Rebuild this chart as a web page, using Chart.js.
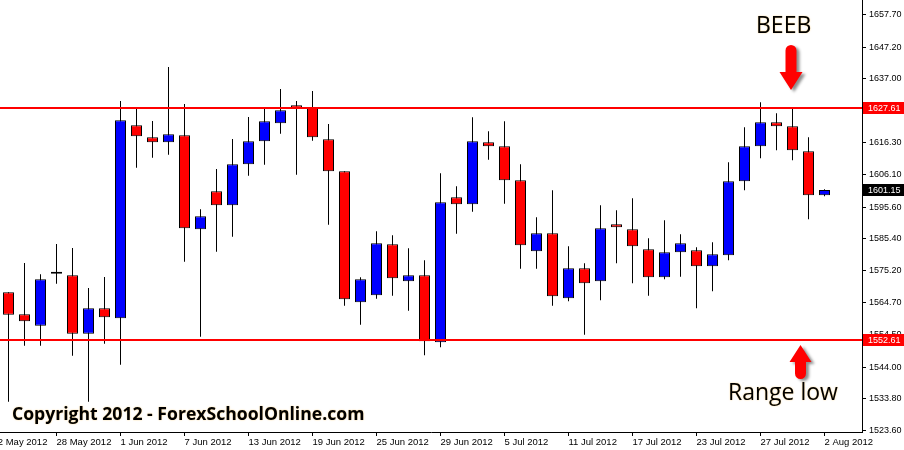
<!DOCTYPE html>
<html>
<head>
<meta charset="utf-8">
<script src="https://cdn.jsdelivr.net/npm/chart.js@4.4.1/dist/chart.umd.min.js"></script>
<style>
html,body{margin:0;padding:0;background:#fff}
canvas{display:block}
</style>
</head>
<body>
<canvas id="grafico" width="904" height="450"></canvas>
<script>

/* DADOS */

const dates=["23 May 2012","24 May 2012","25 May 2012","28 May 2012","29 May 2012","30 May 2012","31 May 2012",
"1 Jun 2012","4 Jun 2012","5 Jun 2012","6 Jun 2012","7 Jun 2012","8 Jun 2012","11 Jun 2012","12 Jun 2012","13 Jun 2012",
"14 Jun 2012","15 Jun 2012","18 Jun 2012","19 Jun 2012","20 Jun 2012","21 Jun 2012","22 Jun 2012","25 Jun 2012",
"26 Jun 2012","27 Jun 2012","28 Jun 2012","29 Jun 2012","2 Jul 2012","3 Jul 2012","4 Jul 2012","5 Jul 2012",
"6 Jul 2012","9 Jul 2012","10 Jul 2012","11 Jul 2012","12 Jul 2012","13 Jul 2012","16 Jul 2012","17 Jul 2012",
"18 Jul 2012","19 Jul 2012","20 Jul 2012","23 Jul 2012","24 Jul 2012","25 Jul 2012","26 Jul 2012","27 Jul 2012",
"30 Jul 2012","31 Jul 2012","1 Aug 2012","2 Aug 2012"]

const opens=[1568.13,1561.03,1557.35,1574.13,1573.61,1554.77,1562.96,1559.74,1622.01,1618.14,1616.53,1618.78,1588.45,
1600.72,1596.20,1609.43,1616.85,1622.66,1628.46,1627.82,1617.49,1607.17,1564.90,1567.16,1583.61,1571.68,1573.61,
1551.99,1598.78,1596.52,1616.53,1615.24,1604.26,1581.36,1587.16,1566.19,1575.87,1571.68,1590.07,1588.45,1582.00,
1572.97,1581.03,1581.68,1576.52,1580.07,1603.94,1615.24,1622.98,1621.69,1613.62,1599.42]

const highs=[1568.13,1577.58,1573.93,1583.71,1582.42,1569.51,1573.06,1629.85,1627.92,1623.40,1640.82,1628.88,1594.91,
1607.91,1617.59,1624.69,1627.92,1633.72,1629.85,1633.08,1622.43,1607.17,1572.97,1587.81,1586.52,1582.32,1578.45,
1606.52,1602.33,1624.59,1620.07,1623.30,1609.43,1592.33,1601.04,1582.97,1577.48,1596.20,1594.58,1598.46,1585.55,
1591.36,1586.84,1582.65,1584.26,1610.07,1621.37,1629.43,1625.88,1627.82,1618.14,1601.36]

const lows=[1532.83,1550.90,1550.90,1570.90,1547.67,1532.83,1551.54,1544.77,1608.33,1611.56,1612.52,1578.00,1553.80,
1581.23,1586.07,1605.75,1609.30,1619.30,1606.07,1617.04,1589.94,1563.80,1557.67,1566.06,1567.03,1562.19,1547.80,
1550.38,1587.03,1594.13,1610.91,1596.71,1575.74,1575.74,1563.80,1565.22,1554.45,1565.54,1577.48,1571.03,1567.03,
1572.32,1573.16,1562.96,1568.45,1578.45,1601.04,1611.36,1613.94,1610.72,1591.68,1599.10]

const closes=[1560.90,1558.77,1572.32,1574.13,1554.77,1562.96,1560.06,1623.62,1618.46,1616.53,1619.11,1588.78,1592.65,
1596.20,1609.43,1616.85,1623.30,1626.85,1627.50,1618.14,1607.17,1565.87,1572.32,1583.94,1572.64,1573.61,1552.32,
1597.17,1596.52,1616.85,1615.24,1604.26,1583.29,1587.16,1566.84,1575.87,1571.03,1588.78,1589.10,1582.97,1572.97,
1581.03,1583.94,1576.52,1580.39,1603.94,1615.24,1622.98,1621.69,1613.94,1599.42,1601.15]

const xTickLabels=["22 May 2012","28 May 2012","1 Jun 2012","7 Jun 2012","13 Jun 2012","19 Jun 2012","25 Jun 2012",
"29 Jun 2012","5 Jul 2012","11 Jul 2012","17 Jul 2012","23 Jul 2012","27 Jul 2012","2 Aug 2012"]

const yTicks=[1523.60,1533.80,1544.00,1554.50,1564.70,1575.20,1585.40,1595.60,1606.10,1616.30,1626.80,1637.00,1647.20,1657.70]

const rangeHigh=1627.61
const rangeLow=1552.61
const lastPrice=1601.15


/* CORES */

const bodyColors=opens.map((o,i)=> closes[i]>o ? "#0000ff" : closes[i]<o ? "#ff0000" : "#000000")


/* DESENHOS EXTRA */

function seta(ctx,cx,y0,y1,sw,hw,hl){

const dir=y1>y0?1:-1
const r=sw/2
const yb=y1-dir*hl

ctx.beginPath()
ctx.moveTo(cx-r,yb)
ctx.lineTo(cx-r,y0+dir*r)
ctx.arc(cx,y0+dir*r,r,Math.PI,0,dir<0)
ctx.lineTo(cx+r,yb)
ctx.lineTo(cx+hw/2,yb)
ctx.lineTo(cx,y1)
ctx.lineTo(cx-hw/2,yb)
ctx.closePath()
ctx.fill()

}

const anotacoes={

id:"anotacoes",

afterDatasetsDraw(chart){

const {ctx,chartArea:a,scales:{y}}=chart

ctx.save()
ctx.strokeStyle="#ff0000"
ctx.lineWidth=2

;[rangeHigh,rangeLow].forEach(v=>{
const py=Math.round(y.getPixelForValue(v))
ctx.beginPath()
ctx.moveTo(a.left,py)
ctx.lineTo(a.right,py)
ctx.stroke()
})

ctx.restore()

},

afterDraw(chart){

const {ctx,chartArea:a,scales:{y}}=chart

ctx.save()

/* caixas de preço */
const caixa=(v,cor)=>{
const py=Math.round(y.getPixelForValue(v))
ctx.fillStyle=cor
ctx.fillRect(a.right+1,py-6,chart.width-a.right-1,12)
ctx.fillStyle="#fff"
ctx.font='9px "Liberation Sans"'
ctx.textBaseline="middle"
ctx.textAlign="left"
ctx.fillText(v.toFixed(2),a.right+6,py+0.5)
}
caixa(rangeHigh,"#ff0000")
caixa(rangeLow,"#ff0000")
caixa(lastPrice,"#000000")

/* textos */
ctx.fillStyle="#000"
ctx.textBaseline="alphabetic"
ctx.textAlign="left"
ctx.shadowColor="rgba(255,170,0,0.55)"
ctx.shadowBlur=1.5
ctx.font='23px "Open Sans"'
ctx.fillText("BEEB",756,33)
ctx.fillText("Range low",728,400)

const copy="Copyright 2012 - ForexSchoolOnline.com"
ctx.font='bold 16px "Open Sans"'
const fs=16*353/ctx.measureText(copy).width
ctx.font='bold '+fs.toFixed(1)+'px "Open Sans"'
ctx.fillText(copy,12,420)

/* setas */
ctx.fillStyle="#ff0000"
ctx.shadowColor="rgba(0,0,0,0.45)"
ctx.shadowBlur=3
ctx.shadowOffsetX=3
ctx.shadowOffsetY=2
seta(ctx,791,45,90,11,23,18)
seta(ctx,800.5,379,345,11,22,17)

ctx.restore()

}

}


/* GRÁFICO */

const ctx=document.getElementById("grafico")

new Chart(ctx,{

type:"bar",

data:{

datasets:[{

label:"corpo",
data:dates.map((d,i)=>({x:i,y:[opens[i],closes[i]]})),
backgroundColor:bodyColors,
borderColor:"#000",
borderWidth:1,
borderSkipped:false,
barPercentage:1,
maxBarThickness:11,
minBarLength:2,
grouped:false,
order:0

},{

label:"pavio",
data:dates.map((d,i)=>({x:i,y:[lows[i],highs[i]]})),
backgroundColor:"#000",
borderWidth:0,
barPercentage:1,
maxBarThickness:1,
grouped:false,
order:1

}]

},

options:{

responsive:false,
animation:false,
devicePixelRatio:1,
layout:{padding:0},

plugins:{
legend:{display:false},
tooltip:{enabled:false}
},

scales:{

x:{
type:"linear",
min:-0.53125,
max:53.34375,
offset:false,
grid:{drawOnChartArea:false,drawTicks:true,tickLength:4,color:"#000",offset:false},
border:{display:true,color:"#000",width:1},
afterBuildTicks:(axis)=>{axis.ticks=xTickLabels.map((t,k)=>({value:4*k-1}))},
ticks:{autoSkip:false,maxRotation:0,minRotation:0,align:"start",padding:1,color:"#000",
font:{family:"Liberation Sans",size:9.5},
callback:(v,i)=>xTickLabels[i]},
afterFit:(s)=>{s.height=18;s.paddingLeft=0;s.paddingRight=0}
},

y:{
type:"linear",
position:"right",
min:1523.05,
max:1662.44,
grid:{drawOnChartArea:false,drawTicks:true,tickLength:4,color:"#000"},
border:{display:true,color:"#000",width:1},
afterBuildTicks:(axis)=>{axis.ticks=yTicks.map(v=>({value:v}))},
ticks:{autoSkip:false,padding:3,color:"#000",font:{family:"Liberation Sans",size:9},
callback:(v)=>Number(v).toFixed(2)},
afterFit:(s)=>{s.width=42;s.paddingTop=0;s.paddingBottom=0}
}

}

},

plugins:[anotacoes]

})

</script>
</body>
</html>
